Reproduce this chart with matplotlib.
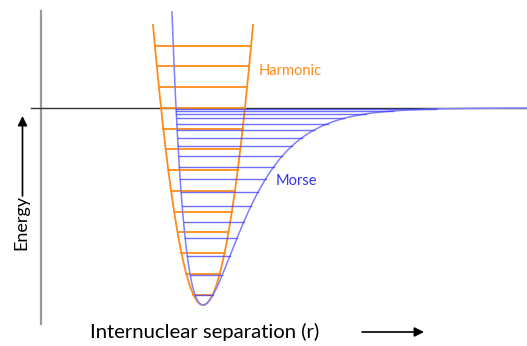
import numpy as np
import matplotlib.pyplot as plt

plt.rcParams['font.family'] = ['Lato', 'DejaVu Sans']

# energies in units of the Morse well depth, zero = dissociation limit
r_e = 2.03          # equilibrium separation
morse_a = 2.57      # Morse width parameter
harm_k = 5.685      # harmonic curvature

harmonic_levels = [-0.947, -0.842, -0.737, -0.631, -0.526, -0.421, -0.316,
                   -0.210, -0.105, 0.000, 0.105, 0.211, 0.316]
morse_levels = [-0.947, -0.847, -0.751, -0.662, -0.578, -0.500, -0.427,
                -0.360, -0.299, -0.244, -0.194, -0.150, -0.111, -0.079,
                -0.052, -0.030, -0.015, -0.005]

orange = '#ff8c1a'
blue = '#4040ff'

W, H = 527, 346
fig = plt.figure(figsize=(W / 100, H / 100), dpi=100)
ax = fig.add_axes([0, 0, 1, 1])
ax.set_xlim(0, 5.27)
ax.set_ylim(-1.208, 0.548)
ax.axis('off')

# axes
ax.plot([0.405, 0.405], [-1.096, 0.492], color='#999999', lw=1.6)
ax.plot([0.31, 5.27], [0, 0], color='#333333', lw=1.0)

# harmonic oscillator
h_top = 0.421
d = np.sqrt((h_top + 1) / harm_k)
r = np.linspace(r_e - d, r_e + d, 300)
ax.plot(r, -1 + harm_k * (r - r_e) ** 2, color=orange, lw=1.3)
for e in harmonic_levels:
    half = np.sqrt((e + 1) / harm_k)
    ax.plot([r_e - half, r_e + half], [e, e], color=orange, lw=1.3)

# Morse potential
m_top = 0.487
r_left = r_e - np.log(1 + np.sqrt(m_top + 1)) / morse_a
r = np.linspace(r_left, 5.27, 600)
ax.plot(r, -1 + (1 - np.exp(-morse_a * (r - r_e))) ** 2, color='#7f7fff', lw=1.1)
for e in morse_levels:
    s = np.sqrt(e + 1)
    x0 = r_e - np.log(1 + s) / morse_a
    x1 = r_e - np.log(1 - s) / morse_a
    ax.plot([x0, x1], [e, e], color=blue, lw=1.0, alpha=0.75)

# labels
fig.text(259 / W, 1 - 71 / H, 'Harmonic', color=orange, fontsize=10.5,
         ha='left', va='center')
fig.text(276 / W, 1 - 181 / H, 'Morse', color='#3535f0', fontsize=10.5,
         ha='left', va='center')
fig.text(21 / W, 1 - 222 / H, 'Energy', rotation=90, fontsize=13,
         ha='center', va='center')
fig.text(205 / W, 1 - 332 / H, 'Internuclear separation (r)', fontsize=14.6,
         ha='center', va='center')

arrow = dict(arrowstyle='-|>', color='black', lw=1.2, mutation_scale=14,
             shrinkA=0, shrinkB=0)
ax.annotate('', xy=(22.5, H - 116), xytext=(22.5, H - 196),
            xycoords='figure pixels', textcoords='figure pixels', arrowprops=arrow)
ax.annotate('', xy=(424, H - 332), xytext=(362, H - 332),
            xycoords='figure pixels', textcoords='figure pixels', arrowprops=arrow)

fig.savefig('out.png', dpi=100)
